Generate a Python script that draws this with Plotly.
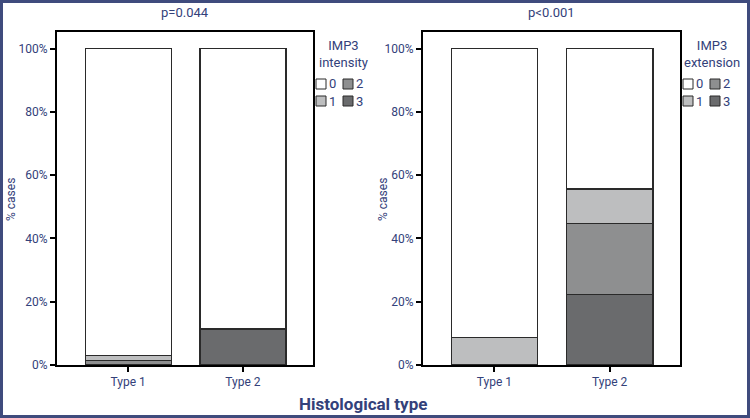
import plotly.graph_objects as go

W, H = 750, 418

categories = ["Type 1", "Type 2"]
grades = ["0", "1", "2", "3"]

# IMP3 intensity (% cases) per histological type
intensity = {
    "0": [96.9, 88.6],
    "1": [1.8, 0.0],
    "2": [1.3, 0.0],
    "3": [0.0, 11.4],
}
# IMP3 extension (% cases) per histological type
extension = {
    "0": [91.2, 44.4],
    "1": [8.8, 11.0],
    "2": [0.0, 22.2],
    "3": [0.0, 22.4],
}

p_values = ["p=0.044", "p<0.001"]
legend_titles = ["IMP3<br>intensity", "IMP3<br>extension"]
y_ticks = [0, 20, 40, 60, 80, 100]
y_tick_text = [f"{v}%" for v in y_ticks]

colors = {"0": "#ffffff", "1": "#bdbebf", "2": "#8e8f90", "3": "#6a6b6d"}
TXT = "#33417a"
FONT = "Roboto"


def px(x):
    return x / W


def py(y):
    return 1 - y / H


fig = go.Figure()

for i, data in enumerate([intensity, extension]):
    xa = "x" if i == 0 else "x2"
    ya = "y" if i == 0 else "y2"
    for g in ["3", "2", "1", "0"]:
        fig.add_trace(go.Bar(
            x=categories, y=data[g], name=g, xaxis=xa, yaxis=ya,
            marker=dict(color=colors[g], line=dict(color="#2a2a2a", width=1.2)),
            width=0.75, showlegend=False, hoverinfo="skip",
        ))

x_domains = [[px(57), px(313)], [px(423), px(680)]]
y_domain = [py(365), py(31.5)]

axis_common = dict(
    showline=True, mirror=True, linecolor="black", linewidth=2,
    ticks="outside", ticklen=5, tickwidth=2, tickcolor="black",
    tickfont=dict(family=FONT, size=12, color=TXT), showgrid=False, zeroline=False,
    automargin=False,
)

layout = dict(
    template="none",
    width=W, height=H, barmode="stack",
    margin=dict(l=0, r=0, t=0, b=0, pad=0),
    paper_bgcolor="white", plot_bgcolor="white",
    font=dict(family=FONT, color=TXT),
    showlegend=False,
)
for i in range(2):
    sx = "" if i == 0 else "2"
    layout["xaxis" + sx] = dict(
        domain=x_domains[i], anchor="y" + sx, range=[-0.62, 1.61],
        type="category", **axis_common,
    )
    layout["yaxis" + sx] = dict(
        domain=y_domain, anchor="x" + sx, range=[0, 105.4],
        tickvals=y_ticks, ticktext=y_tick_text, **axis_common,
    )
fig.update_layout(**layout)

annotations = []
shapes = []


def note(x, y, text, size, xanchor="center", angle=0):
    annotations.append(dict(x=px(x), y=py(y), xref="paper", yref="paper", text=text,
                            showarrow=False, xanchor=xanchor, yanchor="middle",
                            textangle=angle, font=dict(family=FONT, size=size, color=TXT)))


# subplot titles
for i, t in enumerate(p_values):
    cx = (x_domains[i][0] + x_domains[i][1]) / 2 * W
    note(cx, 13, t, 13)

# y-axis titles
for xpos in [11, 383]:
    note(xpos, 200, "% cases", 12, angle=-90)

# x title
note(363, 404, "<b>Histological type</b>", 17)

# custom 2x2 legends
legend_specs = [
    dict(cx=343, col=[316, 343]),
    dict(cx=712, col=[683, 710]),
]
rows = [84, 101]
layout_grid = [["0", "2"], ["1", "3"]]
sw = 10
for i, spec in enumerate(legend_specs):
    note(spec["cx"], 54, legend_titles[i], 13)
    for r, ry in enumerate(rows):
        for c, cxp in enumerate(spec["col"]):
            g = layout_grid[r][c]
            shapes.append(dict(type="rect", xref="paper", yref="paper",
                               x0=px(cxp), x1=px(cxp + sw), y0=py(ry + sw / 2), y1=py(ry - sw / 2),
                               fillcolor=colors[g], line=dict(color="#2a2a2a", width=1)))
            note(cxp + sw + 1, ry, g, 13, xanchor="left")

# outer frame
shapes.append(dict(type="rect", xref="paper", yref="paper",
                   x0=px(1.5), x1=px(W - 1.5), y0=py(H - 1.5), y1=py(1.5),
                   line=dict(color="#3f4b7d", width=3), fillcolor="rgba(0,0,0,0)"))

fig.update_layout(annotations=annotations, shapes=shapes)
fig.write_html("out.html")
